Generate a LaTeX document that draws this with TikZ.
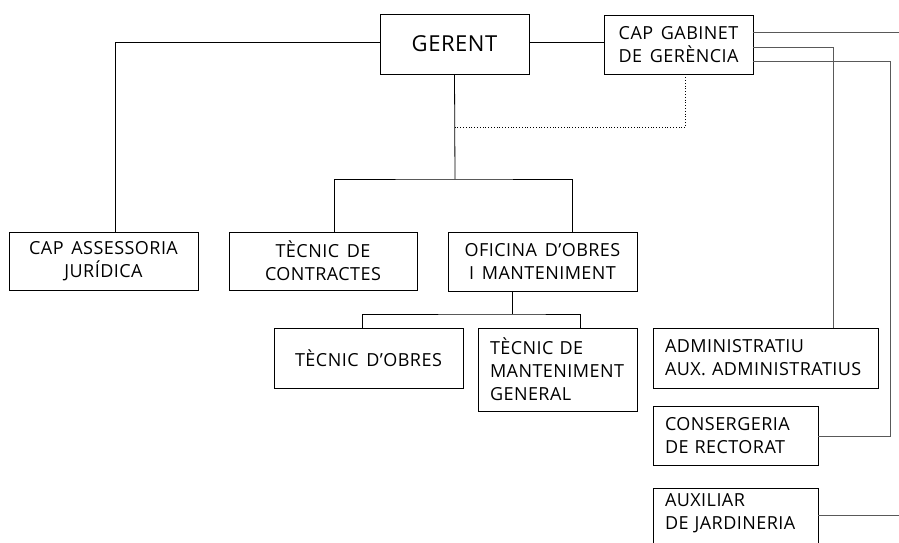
\documentclass[tikz,border=0pt]{standalone}
\usepackage{fontspec}
\setmainfont{Open Sans}[LetterSpace=2.5, WordSpace=1.5]
\usetikzlibrary{calc}
\begin{document}
\begin{tikzpicture}[x=1pt,y=-1pt,
  box/.style={draw, line width=0.8pt, inner sep=0pt, align=center,
    font=\fontsize{18}{23}\selectfont},
  lbox/.style={draw, line width=0.8pt, inner xsep=12pt, inner ysep=0pt, align=left,
    font=\fontsize{18}{23}\selectfont},
  link/.style={line width=0.8pt, black},
  glink/.style={line width=0.8pt, black!65},
  dlink/.style={line width=0.8pt, black, dotted}]
\useasboundingbox (0,0) rectangle (899,542);
\clip (0,0) rectangle (899,542);
\fill[white] (0,0) rectangle (899,542);

\node[box, minimum width=149pt, minimum height=60pt, font=\fontsize{22}{26}\selectfont] (ger) at (454.5,44) {GERENT};
\node[box, minimum width=149pt, minimum height=59pt] (capg) at (678.5,44.5) {CAP GABINET\\DE GERÈNCIA};
\node[box, minimum width=189pt, minimum height=58pt] (asses) at (103.5,261) {CAP ASSESSORIA\\JURÍDICA};
\node[box, minimum width=188pt, minimum height=58pt] (tcont) at (323,261) {TÈCNIC DE\\CONTRACTES};
\node[box, minimum width=189pt, minimum height=59pt] (ofic) at (542.5,261.5) {OFICINA D’OBRES\\I MANTENIMENT};
\node[box, minimum width=189pt, minimum height=60pt] (tobr) at (368.5,358) {TÈCNIC D’OBRES};
\node[lbox, text width=135pt, minimum height=83pt] (tmant) at (557.5,369.5) {TÈCNIC DE\\MANTENIMENT\\GENERAL};
\node[lbox, text width=201pt, minimum height=60pt] (admin) at (765.5,358) {ADMINISTRATIU\\AUX. ADMINISTRATIUS};
\node[lbox, text width=141pt, minimum height=59pt] (cons) at (735.5,436) {CONSERGERIA\\DE RECTORAT};
\node[lbox, text width=141pt, minimum height=70pt, anchor=north] (aux) at (735.5,488) {AUXILIAR\\DE JARDINERIA\\\mbox{}};

\coordinate (r1) at (899,32);
\coordinate (r2) at (899,515);
\coordinate (bus1) at (455,179);
\coordinate (bus2) at (512,314);
\coordinate (dot) at (455,127);

% GERENT connections
\draw[link] ([yshift=2pt]ger.west) -| ([xshift=12pt]asses.north);
\draw[link] ([yshift=2pt]ger.east) -- ([yshift=2pt]ger.east -| capg.west);
\draw[link] (ger.south) -- (bus1);
\draw[link] ([xshift=11pt]tcont.north) |- (bus1) -| ([xshift=29.5pt]ofic.north);
\draw[dlink] ([xshift=7pt]capg.south) |- (dot);
% OFICINA
\draw[link] ([xshift=-30.5pt]ofic.south) -- (bus2);
\draw[link] ([xshift=-6.5pt]tobr.north) |- (bus2) -| ([xshift=22.5pt]tmant.north);
% CAP GABINET right
\draw[glink] (capg.east |- r1) -- (r1);
\draw[glink] ([yshift=-2.5pt]capg.east) -| ([xshift=67.5pt]admin.north);
\draw[glink] ([yshift=-16.5pt]capg.east) -| (890,436) -- (cons.east);
\draw[glink] (aux.east |- r2) -- (r2);
\end{tikzpicture}
\end{document}
